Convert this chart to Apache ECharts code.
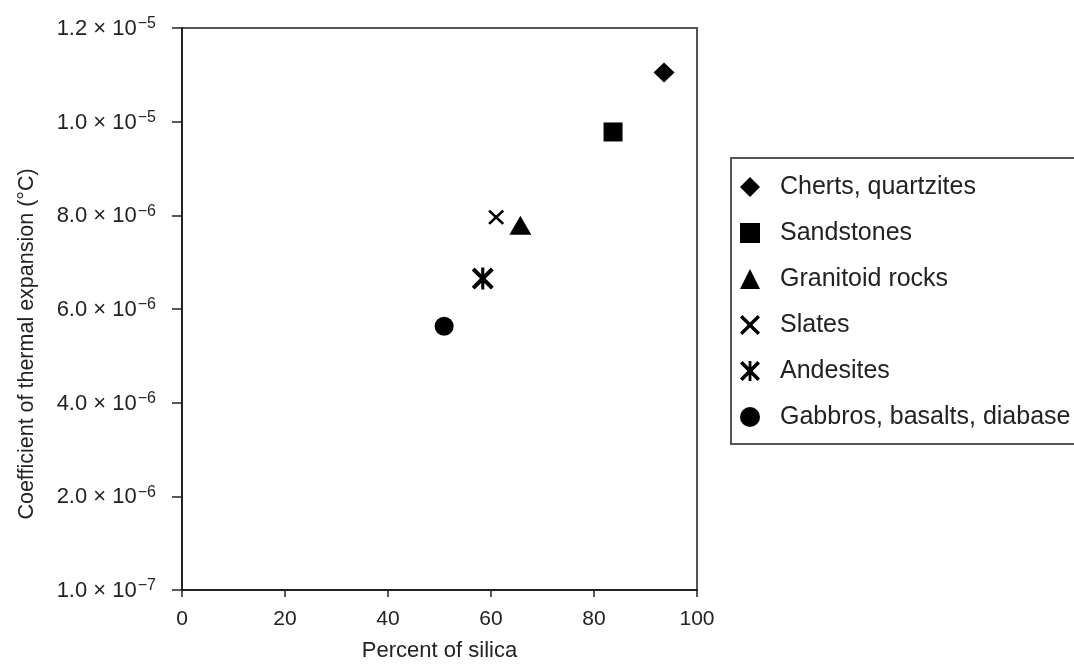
<!DOCTYPE html>
<html>
<head>
<meta charset="utf-8">
<script src="https://cdn.jsdelivr.net/npm/echarts@6/dist/echarts.min.js"></script>
<style>
html,body{margin:0;padding:0;background:#fff;}
#chart{width:1074px;height:667px;}
</style>
</head>
<body>
<div id="chart"></div>
<script>
// ---- data ----
var rockTypes = ['Cherts, quartzites', 'Sandstones', 'Granitoid rocks', 'Slates', 'Andesites', 'Gabbros, basalts, diabase'];
var silicaPercent = [93.6, 83.7, 65.7, 61.0, 58.4, 50.9];
var expansionCoeff = [1.105e-5, 9.78e-6, 7.79e-6, 7.96e-6, 6.65e-6, 5.63e-6];
var xTickLabels = ['0', '20', '40', '60', '80', '100'];
var yTickMantissa = ['1.0', '2.0', '4.0', '6.0', '8.0', '1.0', '1.2'];
var yTickExponent = ['\u22127', '\u22126', '\u22126', '\u22126', '\u22126', '\u22125', '\u22125'];

// ---- marker shapes ----
var crossPath = 'path://M12 0 L50 38 L88 0 L100 12 L62 50 L100 88 L88 100 L50 62 L12 100 L0 88 L38 50 L0 12 Z';
var starPath = 'path://M13 0 L50 37 L87 0 L100 13 L63 50 L100 87 L87 100 L50 63 L13 100 L0 87 L37 50 L0 13 Z M43 0 L57 0 L57 100 L43 100 Z';
var symbols = ['diamond', 'rect', 'triangle', crossPath, starPath, 'circle'];
var sizes = [[21, 20], [19, 19], [22, 19], [16, 15], [22, 22], [19, 19]];

var FONT = '"Liberation Sans", Arial, sans-serif';
var TXT = '#222';

var series = rockTypes.map(function (name, i) {
  return {
    name: name,
    type: 'scatter',
    symbol: symbols[i],
    symbolSize: sizes[i],
    itemStyle: { color: '#000', opacity: 1 },
    emphasis: { disabled: true },
    data: [[silicaPercent[i], expansionCoeff[i]]]
  };
});

var chart = echarts.init(document.getElementById('chart'));
chart.setOption({
  animation: false,
  backgroundColor: '#fff',
  textStyle: { fontFamily: FONT },
  grid: {
    left: 182, top: 28, width: 515, height: 564,
    show: true, borderColor: '#555', borderWidth: 2, backgroundColor: 'transparent'
  },
  legend: {
    orient: 'vertical',
    left: 731, top: 158,
    padding: [16, 24, 14, 9],
    borderColor: '#555', borderWidth: 2,
    itemWidth: 20, itemHeight: 20, itemGap: 20,
    itemStyle: { opacity: 1 },
    textStyle: { fontSize: 25, color: TXT, fontFamily: FONT, lineHeight: 26, padding: [0, 0, 0, 15] },
    data: rockTypes
  },
  xAxis: {
    type: 'value', min: 0, max: 100, interval: 20,
    name: 'Percent of silica', nameLocation: 'middle', nameGap: 50,
    nameTextStyle: { fontSize: 22, color: TXT, fontFamily: FONT },
    axisLine: { lineStyle: { color: '#222', width: 2 } },
    axisTick: { length: 7, lineStyle: { color: '#222', width: 1.5 } },
    axisLabel: {
      fontSize: 21, color: TXT, margin: 19, fontFamily: FONT,
      formatter: function (v, idx) { return xTickLabels[idx]; }
    },
    splitLine: { show: false }
  },
  yAxis: {
    type: 'value', min: 0, max: 1.2e-5, interval: 2e-6,
    name: 'Coefficient of thermal expansion (\u00B0C)', nameLocation: 'middle', nameGap: 144, nameRotate: 90,
    nameTextStyle: { fontSize: 21.5, color: TXT, fontFamily: FONT, padding: [0, 70, 0, 0] },
    axisLine: { lineStyle: { color: '#222', width: 2 } },
    axisTick: { length: 10, lineStyle: { color: '#222', width: 1.5 } },
    axisLabel: {
      margin: 26, color: TXT, fontFamily: FONT,
      formatter: function (v, idx) {
        return '{b|' + yTickMantissa[idx] + ' \u00D7 10}{s|' + yTickExponent[idx] + '}';
      },
      rich: {
        b: { fontSize: 22, color: TXT, fontFamily: FONT, lineHeight: 24, verticalAlign: 'bottom' },
        s: { fontSize: 16, color: TXT, fontFamily: FONT, verticalAlign: 'top', lineHeight: 16, padding: [0, 0, 0, 1] }
      }
    },
    splitLine: { show: false }
  },
  series: series
});
</script>
</body>
</html>
